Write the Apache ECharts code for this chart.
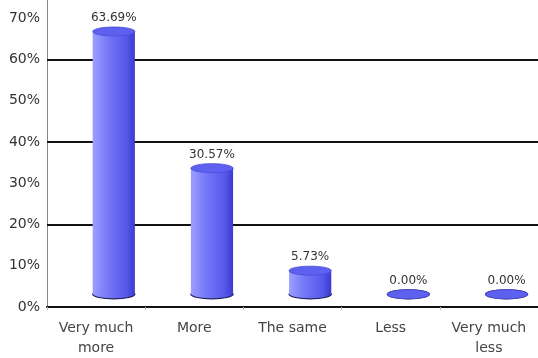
<!DOCTYPE html>
<html>
<head>
<meta charset="utf-8">
<script src="https://cdn.jsdelivr.net/npm/echarts@6/dist/echarts.min.js"></script>
<style>
  html, body { margin: 0; padding: 0; background: #fff; }
  #chart { width: 538px; height: 358px; }
</style>
</head>
<body>
<div id="chart"></div>
<script>
// Survey answers and their share of responses (%)
const categories = ['Very much\nmore', 'More', 'The same', 'Less', 'Very much\nless'];
const shares = [63.69, 30.57, 5.73, 0.00, 0.00];
const gridValues = [20, 40, 60];

const chart = echarts.init(document.getElementById('chart'));

// Cylinder look: body offset to the right and up to fake depth
const DEPTH_X = 0.18;   // fraction of a category band
const DEPTH_Y = -12.7;  // pixels
const ELLIPSE_RY = 4.5;

const bodyFill = new echarts.graphic.LinearGradient(0, 0, 1, 0, [
  { offset: 0, color: '#9c9eff' },
  { offset: 0.35, color: '#7679f7' },
  { offset: 0.8, color: '#5558ea' },
  { offset: 1, color: '#3a3bcf' }
]);

function renderCylinder(params, api) {
  const idx = api.value(0);
  const val = api.value(1);
  const band = api.size([1, 0])[0];
  const base = api.coord([idx, 0]);
  const top = api.coord([idx, val]);
  const w = band * 0.43;
  const cx = base[0] + band * DEPTH_X;
  const by = base[1] + DEPTH_Y;
  const ty = top[1] + DEPTH_Y;
  const rx = w / 2;
  const children = [
    {
      type: 'ellipse',
      shape: { cx: cx, cy: by, rx: rx, ry: ELLIPSE_RY },
      style: { fill: bodyFill, stroke: '#1c1c5a', lineWidth: 1.2 }
    },
    {
      type: 'rect',
      shape: { x: cx - rx, y: ty, width: w, height: Math.max(0, by - ty) },
      style: { fill: bodyFill }
    },
    {
      type: 'ellipse',
      shape: { cx: cx, cy: ty, rx: rx, ry: ELLIPSE_RY },
      style: { fill: '#5e61ef', stroke: '#4a4cd8', lineWidth: 0.8 }
    },
    {
      type: 'text',
      style: {
        text: val.toFixed(2) + '%',
        x: cx,
        y: ty - ELLIPSE_RY - 9,
        align: 'center',
        verticalAlign: 'middle',
        fill: '#333',
        font: '12px "DejaVu Sans"'
      }
    }
  ];
  return { type: 'group', children: children };
}

chart.setOption({
  animation: false,
  backgroundColor: '#ffffff',
  grid: { left: 47, right: 0, top: 0, bottom: 47, containLabel: false },
  xAxis: {
    type: 'category',
    data: categories,
    boundaryGap: true,
    axisLine: { lineStyle: { color: '#111', width: 2 } },
    axisTick: { show: true, length: 3, lineStyle: { color: '#bbb' } },
    axisLabel: {
      margin: 11,
      color: '#444',
      fontFamily: 'DejaVu Sans',
      fontSize: 14,
      lineHeight: 20,
      interval: 0
    },
    splitLine: { show: false }
  },
  yAxis: {
    type: 'value',
    min: 0,
    max: 74.4,
    interval: 10,
    axisLine: { show: true, lineStyle: { color: '#888', width: 1 } },
    axisTick: { show: false },
    axisLabel: {
      formatter: '{value}%',
      showMaxLabel: false,
      margin: 7,
      color: '#333',
      fontFamily: 'DejaVu Sans',
      fontSize: 14
    },
    splitLine: { show: false }
  },
  series: [
    {
      type: 'line',
      data: [],
      z: 1,
      silent: true,
      markLine: {
        silent: true,
        symbol: ['none', 'none'],
        label: { show: false },
        lineStyle: { color: '#111', width: 2, type: 'solid' },
        data: gridValues.map(v => ({ yAxis: v }))
      }
    },
    {
      type: 'custom',
      z: 5,
      renderItem: renderCylinder,
      data: shares.map((v, i) => [i, v])
    }
  ]
});
</script>
</body>
</html>
